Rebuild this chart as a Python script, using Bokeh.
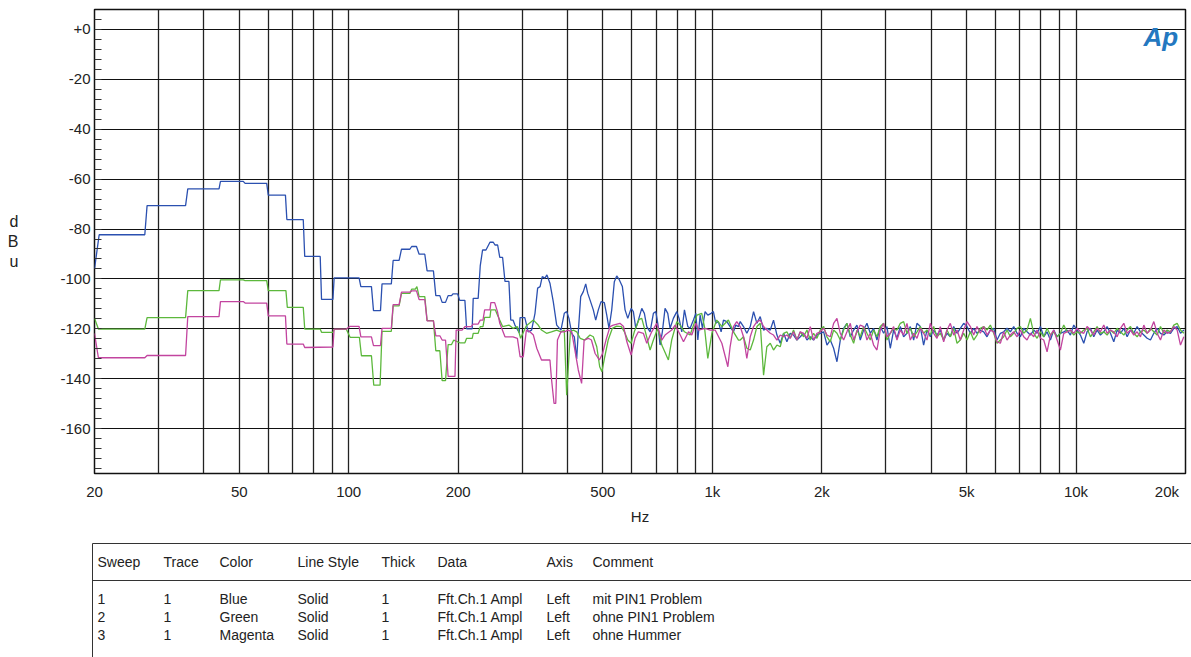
from bokeh.plotting import figure
from bokeh.models import ColumnDataSource, FixedTicker, Range1d, Label
from bokeh.layouts import column
from bokeh.embed import file_html
from bokeh.resources import INLINE
from bokeh.core.properties import value

FONT = "Liberation Sans"

# ---------------- data ----------------
blue_lo_hz = [20, 20.6, 27.5, 27.9, 35.6, 36.1, 44.0, 44.4, 51.3, 51.9,
              59.5, 60.1, 67.0, 67.6, 75.0, 75.7, 83.5, 84.2, 90.5, 91.2,
              106.8, 108.0, 115.5, 117.0, 122.3, 123.5, 131.0, 132.5, 137.6, 139.7,
              147.3, 149.0, 153.6, 156.2, 161.9, 164.3, 171.0, 173.6, 178.1, 180.7,
              184.6, 187.7, 191.8, 193.5, 199.3, 202.0, 208.7, 211.0, 218.6, 220.0,
              227.0, 230.0, 233.4, 238.5, 244.6, 249.8, 252.5, 256.8, 260.3, 265.0,
              269.0, 275.8, 279.0, 283.0, 286.5, 294.4, 296.0, 305.0, 311.6, 318.4,
              325.3, 330.8, 336.0, 340.6, 346.5, 350.8, 357.6, 365.2, 373.2, 383.4,
              391.6, 397.6, 403.4, 410.4, 417.3, 423.6, 427.9, 434.5, 441.8, 448.5,
              454.2, 460.8, 470.6, 477.8, 485.8, 494.2, 504.6, 512.4, 519.8, 528.8,
              537.6, 545.8, 555.0, 565.6, 575.4, 585.4, 597.8, 606.4, 615.8, 626.0,
              639.6, 650.2, 660.2, 674.2, 688.4, 699.0, 707.8, 718.2, 728.6, 741.2,
              754.0, 765.2, 781.2, 798.4, 810.0, 824.0, 838.0, 856.0, 868.6, 887.0,
              900.6, 912.2, 925.4, 939.2, 955.0, 971.6, 992.2, 1006.6, 1022, 1039,
              1057, 1073, 1096, 1119, 1143, 1160, 1180]
blue_lo_db = [-96.0, -82.3, -82.3, -70.6, -70.6, -63.9, -63.9, -60.9, -60.9, -61.7,
              -61.7, -66.4, -66.4, -76.2, -76.2, -91.0, -91.0, -108.2, -108.2, -99.6,
              -99.6, -103.1, -103.1, -112.7, -112.7, -102.0, -102.0, -92.6, -92.6, -88.1,
              -88.1, -87.0, -87.0, -90.1, -90.1, -96.8, -96.8, -106.7, -106.7, -109.4,
              -109.4, -106.7, -106.7, -106.0, -106.0, -108.6, -108.6, -120.0, -120.0, -107.8,
              -107.8, -94.8, -88.4, -88.4, -85.3, -85.3, -86.4, -86.4, -91.4, -91.4,
              -101.0, -101.0, -116.5, -116.5, -118.5, -121.6, -115.5, -115.5, -121.2, -120.5,
              -113.8, -103.7, -103.1, -99.1, -99.7, -98.4, -101.7, -109.1, -118.5, -120.5,
              -113.8, -113.1, -115.8, -121.8, -123.2, -132.1, -121.2, -107.1, -105.1, -102.0,
              -105.7, -108.4, -112.4, -116.5, -112.4, -109.1, -109.5, -114.5, -119.8, -112.4,
              -101.1, -98.8, -100.4, -103.0, -112.4, -115.8, -111.8, -113.1, -119.8, -116.5,
              -111.8, -113.8, -119.1, -121.2, -113.8, -113.1, -117.8, -126.5, -121.2, -111.8,
              -113.8, -119.8, -115.8, -113.1, -115.8, -121.2, -112.4, -119.1, -119.8, -116.5,
              -113.8, -124.5, -114.5, -119.8, -113.1, -114.5, -113.8, -113.1, -117.8, -117.1,
              -121.2, -116.5, -117.1, -119.1, -121.2, -118.5, -119.1]

green_lo_hz = [20, 20.5, 27.5, 27.9, 35.6, 36.1, 44.0, 44.4, 51.3, 51.9,
               59.5, 60.1, 67.2, 67.8, 75.0, 75.7, 83.5, 84.2, 90.5, 91.2,
               98.5, 100.9, 107.0, 108.4, 115.5, 117.2, 122.0, 123.5, 131.0, 132.5,
               137.6, 139.7, 147.3, 149.0, 152.5, 154.0, 156.2, 161.9, 164.3, 171.0,
               173.6, 178.1, 180.7, 184.6, 187.7, 191.8, 194.5, 202.0, 208.7, 211.0,
               218.6, 220.0, 227.0, 230.0, 234.0, 236.5, 244.6, 246.0, 253.0, 256.5,
               265.0, 275.8, 283.0, 291.0, 297.0, 308.0, 322.0, 332.0, 339.0, 350.0,
               361.0, 373.2, 383.4, 391.6, 397.6, 407.0, 415.0, 423.6, 433.0, 446.0,
               460.8, 470.6, 481.0, 490.0, 497.0, 506.0, 517.0, 531.0, 545.8, 562.0,
               573.0, 585.4, 597.8, 610.0, 629.0, 639.6, 656.0, 674.2, 688.4, 707.8,
               726.0, 757.0, 773.0, 798.4, 815.0, 838.0, 868.6, 907.0, 935.0, 951.0,
               971.6, 997.0, 1028, 1063, 1107, 1143, 1180]
green_lo_db = [-115.8, -120.1, -120.1, -115.5, -115.5, -104.7, -104.7, -100.4, -100.4, -100.7,
               -100.7, -104.7, -104.7, -111.4, -111.4, -120.1, -120.1, -121.4, -121.4, -120.2,
               -120.2, -123.4, -123.4, -130.8, -130.8, -142.6, -142.6, -121.0, -121.0, -110.8,
               -110.8, -105.8, -105.8, -104.1, -104.1, -103.1, -107.1, -107.1, -116.7, -116.7,
               -128.8, -128.8, -140.8, -140.8, -126.3, -126.3, -124.5, -125.6, -125.6, -123.8,
               -123.8, -121.8, -121.8, -119.1, -119.1, -115.4, -115.4, -112.4, -112.4, -114.5,
               -119.1, -118.5, -119.8, -119.1, -123.8, -118.8, -116.5, -118.5, -120.5, -121.8,
               -121.2, -120.5, -121.2, -120.5, -146.6, -121.2, -120.5, -121.2, -123.8, -124.5,
               -122.5, -123.2, -127.2, -135.2, -137.2, -131.2, -124.5, -119.8, -118.9, -119.1,
               -121.2, -124.5, -125.8, -121.2, -116.2, -115.8, -121.8, -128.5, -124.5, -119.8,
               -126.5, -132.5, -124.5, -117.1, -118.5, -121.2, -122.5, -114.5, -113.8, -119.1,
               -131.9, -121.8, -116.5, -119.1, -116.5, -121.2, -124.5]

magenta_lo_hz = [20, 20.5, 27.5, 27.9, 35.6, 36.1, 44.0, 44.4, 51.3, 51.9,
                 59.5, 60.1, 67.0, 67.6, 75.0, 75.7, 90.5, 91.2, 98.5, 100.9,
                 106.8, 108.0, 115.5, 117.0, 122.3, 123.5, 131.0, 132.5, 137.6, 139.7,
                 147.3, 149.0, 153.6, 156.2, 161.9, 164.3, 171.0, 173.6, 178.1, 180.7,
                 184.6, 187.7, 196.0, 197.5, 205.0, 208.7, 217.0, 220.0, 227.0, 230.0,
                 234.0, 236.5, 244.6, 246.0, 252.0, 256.5, 260.3, 269.0, 283.0, 291.0,
                 296.0, 302.0, 308.0, 315.0, 322.0, 329.0, 339.0, 357.6, 361.0, 367.0,
                 371.0, 375.0, 383.4, 391.6, 401.0, 410.4, 417.3, 427.9, 437.0, 444.0,
                 456.0, 465.0, 476.0, 489.0, 499.0, 510.0, 523.0, 534.0, 557.0, 570.0,
                 582.0, 597.8, 613.0, 626.0, 646.0, 660.2, 681.0, 703.0, 726.0, 741.2,
                 773.0, 790.0, 816.0, 833.0, 860.0, 878.0, 900.6, 917.0, 955.0, 986.0,
                 1018, 1062, 1103, 1119, 1143, 1167]
magenta_lo_db = [-121.8, -131.6, -131.6, -130.7, -130.7, -115.1, -115.1, -109.1, -109.1, -109.7,
                 -109.7, -114.8, -114.8, -126.1, -126.1, -127.5, -127.3, -120.1, -120.1, -119.0,
                 -119.0, -123.2, -123.2, -126.7, -126.7, -119.8, -119.8, -110.3, -110.3, -105.3,
                 -105.3, -104.8, -104.8, -108.3, -108.3, -116.8, -116.8, -122.8, -122.8, -124.5,
                 -124.5, -139.1, -139.1, -120.5, -120.5, -119.1, -119.1, -118.1, -118.1, -116.5,
                 -116.5, -112.4, -112.4, -109.5, -109.5, -113.1, -117.8, -123.2, -123.2, -123.8,
                 -131.2, -131.2, -120.5, -121.2, -122.5, -127.8, -132.5, -132.5, -139.9, -149.9,
                 -149.9, -124.5, -121.2, -121.2, -120.5, -121.2, -127.2, -136.5, -141.9, -124.5,
                 -123.8, -124.5, -129.9, -132.5, -129.9, -124.5, -119.1, -118.5, -117.8, -119.1,
                 -125.2, -130.5, -123.8, -121.2, -121.8, -125.8, -121.2, -117.8, -124.5, -122.5,
                 -120.5, -118.5, -122.5, -125.2, -121.2, -122.5, -117.8, -120.5, -119.8, -120.5,
                 -120.5, -125.8, -135.2, -127.2, -119.1, -117.1]

# common frequency points of the noisy part above ~1.2 kHz
hi_hz = [1193, 1218, 1244, 1271, 1298, 1326, 1354, 1383, 1412, 1443,
         1473, 1505, 1537, 1570, 1603, 1637, 1672, 1708, 1745, 1782,
         1820, 1859, 1898, 1939, 1980, 2023, 2066, 2110, 2155, 2201,
         2248, 2296, 2345, 2395, 2446, 2498, 2551, 2606, 2661, 2718,
         2776, 2835, 2896, 2958, 3021, 3085, 3151, 3218, 3287, 3357,
         3429, 3502, 3577, 3653, 3731, 3810, 3892, 3975, 4060, 4146,
         4235, 4325, 4418, 4512, 4608, 4707, 4807, 4910, 5015, 5122,
         5231, 5343, 5457, 5573, 5692, 5814, 5938, 6064, 6194, 6326,
         6461, 6599, 6740, 6884, 7031, 7181, 7334, 7491, 7651, 7814,
         7981, 8151, 8325, 8503, 8684, 8870, 9059, 9252, 9450, 9651,
         9857, 10067, 10282, 10502, 10726, 10955, 11189, 11428, 11672, 11921,
         12175, 12435, 12701, 12972, 13249, 13532, 13821, 14116, 14417, 14725,
         15039, 15360, 15688, 16023, 16365, 16714, 17071, 17435, 17807, 18187,
         18575, 18972, 19377, 19790]
blue_hi_db = [-117.1, -119.1, -121.8, -119.1, -113.1, -117.8, -115.1, -120.5, -119.8, -120.5,
              -116.5, -122.5, -125.8, -121.8, -125.2, -121.8, -122.5, -124.5, -123.2, -121.8,
              -124.5, -123.2, -124.5, -122.5, -121.8, -121.2, -126.5, -124.5, -127.8, -133.2,
              -124.5, -119.8, -117.8, -123.2, -120.5, -118.5, -124.5, -120.5, -117.8, -121.8,
              -119.8, -124.5, -119.1, -121.8, -119.1, -127.8, -120.5, -123.8, -119.1, -123.2,
              -121.8, -119.1, -124.5, -117.8, -119.1, -126.5, -120.5, -123.2, -120.5, -122.5,
              -120.5, -124.5, -121.8, -123.2, -119.1, -121.8, -119.8, -117.8, -119.1, -121.8,
              -119.8, -121.8, -120.5, -121.2, -123.2, -120.5, -119.8, -124.5, -121.8, -121.2,
              -119.8, -121.2, -119.1, -121.8, -123.2, -119.8, -121.2, -122.5, -120.5, -121.8,
              -119.1, -123.2, -121.2, -124.5, -120.5, -123.2, -121.8, -121.2, -120.5, -122.5,
              -118.5, -120.5, -122.5, -125.8, -121.2, -119.8, -123.2, -120.5, -122.5, -121.2,
              -119.1, -121.8, -125.2, -120.5, -121.8, -119.8, -123.2, -120.5, -121.8, -119.1,
              -121.2, -122.5, -123.8, -124.5, -121.8, -119.8, -121.8, -122.5, -121.2, -121.8,
              -119.8, -119.1, -121.8, -120.5]
green_hi_db = [-124.5, -123.2, -127.8, -128.5, -124.5, -119.1, -117.8, -138.6, -127.2, -125.8,
               -128.5, -126.5, -127.2, -121.8, -121.2, -123.8, -120.5, -124.5, -121.2, -123.2,
               -120.5, -124.5, -121.8, -123.8, -120.5, -119.1, -123.2, -125.2, -120.5, -121.8,
               -124.5, -120.5, -117.8, -122.5, -125.8, -120.5, -123.2, -119.1, -121.8, -124.5,
               -120.5, -123.2, -119.1, -117.8, -124.5, -121.8, -119.8, -120.5, -117.8, -117.1,
               -121.8, -119.8, -123.2, -121.2, -119.1, -121.8, -120.5, -122.5, -119.1, -123.2,
               -121.8, -124.5, -120.5, -123.2, -119.8, -125.8, -124.5, -121.8, -124.5, -121.2,
               -124.5, -122.5, -119.8, -119.1, -120.5, -118.5, -121.8, -125.8, -124.5, -123.2,
               -120.5, -123.2, -121.8, -119.8, -119.1, -121.8, -120.5, -115.8, -121.8, -123.8,
               -121.2, -123.2, -119.8, -122.5, -121.2, -123.2, -121.8, -118.5, -121.2, -120.5,
               -122.5, -121.2, -121.8, -120.5, -119.8, -123.2, -121.2, -119.1, -121.8, -121.2,
               -122.5, -120.5, -121.8, -119.8, -121.2, -122.5, -120.5, -119.1, -121.8, -123.2,
               -121.2, -120.5, -121.8, -119.8, -121.2, -122.5, -119.1, -121.8, -120.5, -121.2,
               -118.5, -117.8, -120.5, -121.8]
magenta_hi_db = [-119.1, -123.2, -131.9, -123.2, -119.1, -117.1, -116.5, -119.1, -120.5, -121.8,
                 -122.5, -124.5, -122.5, -123.2, -122.5, -123.8, -121.2, -124.5, -121.2, -121.8,
                 -123.8, -119.1, -124.5, -121.8, -121.2, -119.8, -122.5, -123.2, -117.8, -115.8,
                 -121.8, -124.5, -121.2, -117.8, -124.5, -121.2, -118.5, -119.1, -124.5, -121.8,
                 -126.5, -128.5, -120.5, -117.8, -123.2, -121.8, -119.1, -124.5, -120.5, -122.5,
                 -117.8, -124.5, -121.8, -123.8, -119.8, -121.8, -124.5, -117.8, -121.8, -123.8,
                 -119.1, -125.2, -120.5, -117.8, -122.5, -120.5, -124.5, -120.5, -117.1, -119.1,
                 -122.5, -119.1, -121.8, -119.1, -122.5, -120.5, -121.2, -125.2, -125.8, -121.2,
                 -124.5, -122.5, -121.2, -123.2, -120.5, -123.2, -124.5, -121.8, -123.2, -120.5,
                 -123.8, -124.5, -129.2, -122.5, -120.5, -124.5, -128.5, -121.8, -121.2, -120.5,
                 -121.8, -119.8, -121.2, -121.8, -119.1, -120.5, -122.5, -119.8, -121.2, -118.5,
                 -121.8, -120.5, -121.2, -123.2, -119.8, -117.8, -121.8, -120.5, -122.5, -121.2,
                 -123.2, -118.5, -121.8, -120.5, -117.1, -121.8, -124.5, -120.5, -121.8, -121.2,
                 -119.1, -120.5, -126.5, -123.2]

x_tick_vals = [20, 50, 100, 200, 500, 1000, 2000, 5000, 10000, 20000]
x_tick_text = ["20", "50", "100", "200", "500", "1k", "2k", "5k", "10k", "20k"]
x_grid_vals = [30, 40, 50, 60, 70, 80, 90, 100, 200, 300, 400, 500, 600, 700, 800, 900,
               1000, 2000, 3000, 4000, 5000, 6000, 7000, 8000, 9000, 10000]
y_tick_vals = [-160, -140, -120, -100, -80, -60, -40, -20, 0]
y_tick_text = ["-160", "-140", "-120", "-100", "-80", "-60", "-40", "-20", "+0"]

table_header = ["Sweep", "Trace", "Color", "Line Style", "Thick", "Data", "Axis", "Comment"]
col_sweep = ["1", "2", "3"]
col_trace = ["1", "1", "1"]
col_color = ["Blue", "Green", "Magenta"]
col_style = ["Solid", "Solid", "Solid"]
col_thick = ["1", "1", "1"]
col_data = ["Fft.Ch.1 Ampl", "Fft.Ch.1 Ampl", "Fft.Ch.1 Ampl"]
col_axis = ["Left", "Left", "Left"]
col_comment = ["mit PIN1 Problem", "ohne PIN1 Problem", "ohne Hummer"]

# ---------------- main chart ----------------
FRAME_L, FRAME_R, FRAME_T, FRAME_B = 94, 6, 9, 67
P_H = 540
NBSP = "\u00a0"

p = figure(width=1191, height=P_H, x_axis_type="log",
           x_range=Range1d(20, 20000), y_range=Range1d(-178, 8),
           output_backend="svg", toolbar_location=None,
           min_border_left=FRAME_L, min_border_right=FRAME_R,
           min_border_top=FRAME_T, min_border_bottom=FRAME_B)
p.background_fill_color = "white"
p.border_fill_color = "white"
p.outline_line_color = "#111111"
p.outline_line_width = 1.5

xa = p.xaxis[0]
xa.ticker = FixedTicker(ticks=x_tick_vals)
ov = {v: t for v, t in zip(x_tick_vals, x_tick_text)}
ov[20000] = "20k" + NBSP * 3
xa.major_label_overrides = ov
xa.axis_line_color = None
xa.major_tick_in = 0
xa.major_tick_out = 0
xa.minor_tick_line_color = None
xa.major_label_standoff = 9
xa.major_label_text_font = FONT
xa.major_label_text_font_size = "15px"
xa.major_label_text_color = "#222222"
xa.axis_label = "Hz"
xa.axis_label_text_font = FONT
xa.axis_label_text_font_size = "15px"
xa.axis_label_text_font_style = "normal"
xa.axis_label_text_color = "#222222"
xa.axis_label_standoff = 5

ya = p.yaxis[0]
ya.ticker = FixedTicker(ticks=y_tick_vals, minor_ticks=list(range(-176, 8, 4)))
ya.major_label_overrides = {v: t for v, t in zip(y_tick_vals, y_tick_text)}
ya.axis_line_color = None
ya.major_tick_in = 0
ya.major_tick_out = 0
ya.minor_tick_in = 7
ya.minor_tick_out = 0
ya.minor_tick_line_color = "#333333"
ya.minor_tick_line_width = 1.2
ya.major_label_standoff = 4
ya.major_label_text_font = FONT
ya.major_label_text_font_size = "15px"
ya.major_label_text_color = "#222222"
ya.axis_label = "d\nB\nu"
ya.axis_label_orientation = "horizontal"
ya.axis_label_standoff = 39
ya.axis_label_text_font = FONT
ya.axis_label_text_font_size = "16px"
ya.axis_label_text_font_style = "normal"
ya.axis_label_text_color = "#222222"

p.xgrid.ticker = FixedTicker(ticks=x_grid_vals)
p.xgrid.grid_line_color = "#222222"
p.xgrid.grid_line_width = 1.3
p.ygrid.ticker = FixedTicker(ticks=y_tick_vals)
p.ygrid.grid_line_color = "#111111"
p.ygrid.grid_line_width = 1.2

traces = [
    (blue_lo_hz + hi_hz, blue_lo_db + blue_hi_db, "#2b50b0"),
    (green_lo_hz + hi_hz, green_lo_db + green_hi_db, "#5cb83c"),
    (magenta_lo_hz + hi_hz, magenta_lo_db + magenta_hi_db, "#c2449f"),
]
for hz, db, col in traces:
    src = ColumnDataSource(dict(hz=hz, db=db))
    p.line("hz", "db", source=src, line_color=col, line_width=1.3)

# logo
p.add_layout(Label(x=1143 - FRAME_L, y=(P_H - FRAME_B) - 36, x_units="screen", y_units="screen",
                   text="Ap", text_align="left", text_baseline="alphabetic",
                   text_font=FONT, text_font_size="26px", text_font_style="bold italic",
                   text_color="#2478c0"))

# ---------------- table ----------------
T_H = 117
t = figure(width=1191, height=T_H, x_range=Range1d(0, 1191), y_range=Range1d(T_H, 0),
           output_backend="svg", toolbar_location=None, min_border=0,
           x_axis_location=None, y_axis_location=None)
t.outline_line_color = None
t.grid.visible = False
t.background_fill_color = "white"
t.border_fill_color = "white"
for fig in (p, t):
    try:
        fig.frame_align = False
    except Exception:
        pass

t.segment(x0=[92, 92, 92], y0=[3, 3, 40], x1=[1191, 92, 1191], y1=[3, T_H, 40],
          line_color="#333333", line_width=1)

col_x = [97, 163, 219, 297, 381, 437, 546, 592]
txt_kw = dict(text_baseline="middle", text_align="left", text_font=value(FONT),
              text_font_size="14px", text_color="#222222")
t.text(x=col_x, y=[21] * len(col_x), text=table_header, **txt_kw)
columns = [col_sweep, col_trace, col_color, col_style, col_thick, col_data, col_axis, col_comment]
row_y = [58, 76, 94]
xs, ys, ts = [], [], []
for cx, vals in zip(col_x, columns):
    for ry, v in zip(row_y, vals):
        xs.append(cx)
        ys.append(ry)
        ts.append(v)
t.text(x=xs, y=ys, text=ts, **txt_kw)

layout = column(p, t, spacing=0)
open("out.html", "w").write(file_html(layout, INLINE))
